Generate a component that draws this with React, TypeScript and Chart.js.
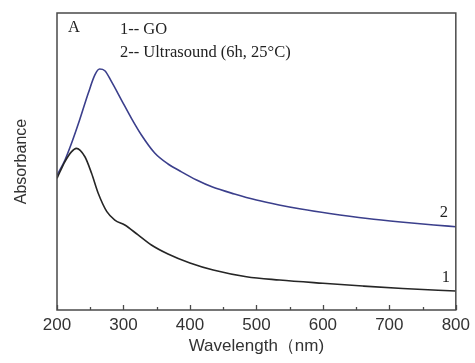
import React, { useEffect, useRef } from "react";
import { Chart, registerables } from "chart.js";

Chart.register(...registerables);

const goWavelength = [200, 212, 222, 229, 242, 252, 262, 275, 287, 302, 322, 342, 367, 400, 435, 485, 535, 600, 660, 720, 800];
const goAbsorbance = [1.33, 1.5, 1.6, 1.633, 1.548, 1.381, 1.179, 0.993, 0.909, 0.859, 0.758, 0.657, 0.566, 0.475, 0.404, 0.336, 0.303, 0.27, 0.242, 0.217, 0.192];

const usWavelength = [200, 212, 222, 234, 247, 257, 264, 272, 282, 297, 312, 327, 347, 367, 385, 410, 434, 467, 500, 534, 567, 610, 667, 717, 767, 800];
const usAbsorbance = [1.36, 1.515, 1.687, 1.919, 2.189, 2.374, 2.434, 2.417, 2.306, 2.121, 1.936, 1.768, 1.586, 1.475, 1.404, 1.313, 1.242, 1.172, 1.111, 1.061, 1.02, 0.975, 0.924, 0.889, 0.859, 0.841];

const xTickValues = [200, 300, 400, 500, 600, 700, 800];
const xMinorTickValues = [250, 350, 450, 550, 650, 750];

const seriesNames = ["1-- GO", "2-- Ultrasound (6h, 25°C)"];
const curveLabels = ["1", "2"];

const serif = "'Liberation Serif', 'Times New Roman', serif";
const sans = "'Liberation Sans', Arial, sans-serif";

const decorPlugin = {
  id: "decor",
  afterDatasetsDraw(chart: any) {
    const { ctx, chartArea } = chart;
    const xs = chart.scales.x;
    const ys = chart.scales.y;
    ctx.save();
    ctx.strokeStyle = "#4a4a4a";
    ctx.lineWidth = 1.5;
    ctx.strokeRect(chartArea.left, chartArea.top, chartArea.right - chartArea.left, chartArea.bottom - chartArea.top);
    ctx.lineWidth = 1.3;
    for (const v of xTickValues) {
      const px = Math.round(xs.getPixelForValue(v)) + 0.5;
      ctx.beginPath();
      ctx.moveTo(px, chartArea.bottom);
      ctx.lineTo(px, chartArea.bottom - 5);
      ctx.stroke();
    }
    for (const v of xMinorTickValues) {
      const px = Math.round(xs.getPixelForValue(v)) + 0.5;
      ctx.beginPath();
      ctx.moveTo(px, chartArea.bottom);
      ctx.lineTo(px, chartArea.bottom - 3);
      ctx.stroke();
    }
    ctx.fillStyle = "#222";
    ctx.font = `16.5px ${serif}`;
    ctx.textBaseline = "middle";
    ctx.textAlign = "left";
    ctx.fillText("A", chartArea.left + 11, chartArea.top + 15);
    ctx.fillText(seriesNames[0], chartArea.left + 63, chartArea.top + 17);
    ctx.fillText(seriesNames[1], chartArea.left + 63, chartArea.top + 40);
    ctx.textAlign = "center";
    ctx.fillText(curveLabels[0], xs.getPixelForValue(785), ys.getPixelForValue(0.33));
    ctx.fillText(curveLabels[1], xs.getPixelForValue(782), ys.getPixelForValue(0.98));
    ctx.restore();
  },
};

export default function App() {
  const ref = useRef<HTMLCanvasElement | null>(null);
  useEffect(() => {
    if (!ref.current) return;
    const chart = new Chart(ref.current, {
      type: "line",
      data: {
        datasets: [
          {
            label: seriesNames[0],
            data: goWavelength.map((w, i) => ({ x: w, y: goAbsorbance[i] })),
            borderColor: "#262626",
            borderWidth: 1.6,
            pointRadius: 0,
            cubicInterpolationMode: "monotone",
            fill: false,
          },
          {
            label: seriesNames[1],
            data: usWavelength.map((w, i) => ({ x: w, y: usAbsorbance[i] })),
            borderColor: "#3b3f8c",
            borderWidth: 1.6,
            pointRadius: 0,
            cubicInterpolationMode: "monotone",
            fill: false,
          },
        ],
      },
      options: {
        animation: false,
        responsive: true,
        maintainAspectRatio: false,
        layout: { padding: { top: 13, right: 17, left: 0, bottom: 0 } },
        plugins: { legend: { display: false }, tooltip: { enabled: false } },
        scales: {
          x: {
            type: "linear",
            min: 200,
            max: 800,
            afterBuildTicks: (s: any) => {
              s.ticks = xTickValues.map((v) => ({ value: v }));
            },
            ticks: {
              color: "#333",
              font: { family: sans, size: 17 },
              padding: 5,
              maxRotation: 0,
            },
            grid: { display: false, drawTicks: false, tickLength: 0 },
            border: { display: false },
            title: {
              display: true,
              text: "Wavelength（nm)",
              color: "#333",
              font: { family: sans, size: 17 },
              padding: { top: 0, bottom: 6 },
            },
            afterFit: (s: any) => {
              s.height = 53;
            },
          },
          y: {
            type: "linear",
            min: 0,
            max: 3,
            ticks: { display: false },
            grid: { display: false, drawTicks: false },
            border: { display: false },
            title: {
              display: true,
              text: "Absorbance",
              color: "#333",
              font: { family: sans, size: 16 },
              padding: { top: 12, bottom: 0 },
            },
            afterFit: (s: any) => {
              s.width = 57;
            },
          },
        },
      },
      plugins: [decorPlugin],
    });
    return () => chart.destroy();
  }, []);
  return (
    <div style={{ position: "fixed", left: 0, top: 0, width: 475, height: 363, background: "#fff" }}>
      <canvas ref={ref} />
    </div>
  );
}
